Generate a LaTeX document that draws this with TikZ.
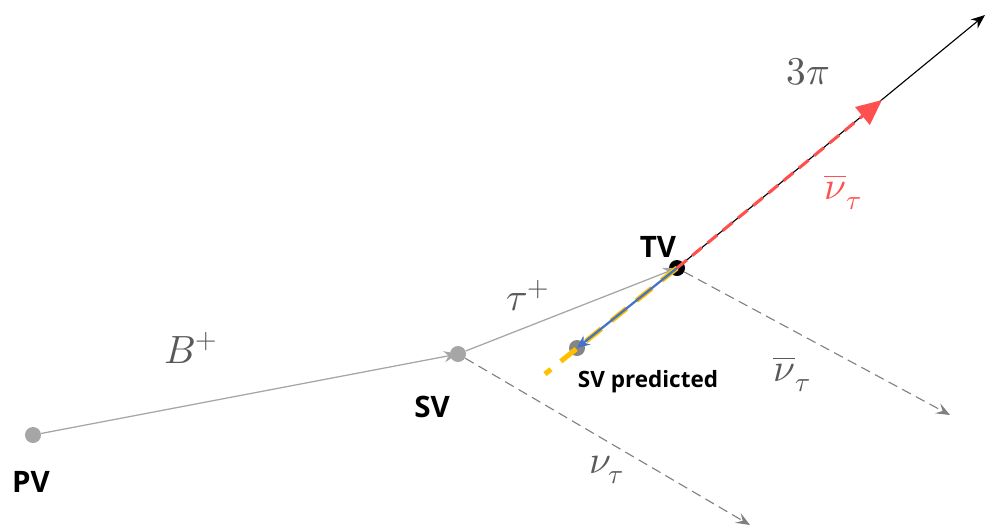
\documentclass[tikz,border=0pt]{standalone}
\usepackage{fontspec}
\usepackage{unicode-math}
\setsansfont{Open Sans}
\usepackage{xcolor}
\usetikzlibrary{arrows.meta}
\definecolor{lblgray}{HTML}{595959}
\definecolor{dotgray}{HTML}{A6A6A6}
\definecolor{nured}{HTML}{FF5050}
\definecolor{predblue}{HTML}{4472C4}
\definecolor{predgold}{HTML}{FFC000}

\begin{document}
\begin{tikzpicture}[x=0.025cm,y=-0.025cm,
  vtx/.style={circle,inner sep=0pt,minimum size=0.4cm},
  trk/.style={dotgray,line width=0.9pt,-{Stealth[length=10pt,width=8pt]}},
  nuline/.style={gray,line width=0.8pt,dash pattern=on 7pt off 4pt,
    -{Stealth[length=10pt,width=8pt,inset=4pt]}},
  vlbl/.style={font=\sffamily\bfseries\fontsize{21}{24}\selectfont},
  predlbl/.style={font=\sffamily\bfseries\fontsize{16}{19}\selectfont},
  mlbl/.style={text=lblgray,font=\fontsize{28}{32}\selectfont}]
  \useasboundingbox (0,0) rectangle (990,529);
  % Vertices
  \node[vtx,fill=dotgray] (pv) at (33,435) {};
  \node[vtx,fill=dotgray] (sv) at (458,354) {};
  \node[vtx,fill=black] (tv) at (677,268) {};
  \node[vtx,fill=gray!80!black,fill opacity=0.8] (svp) at (577,348) {};
  \coordinate (nuend) at (750,525);
  \coordinate (nubarend) at (950,415);
  \coordinate (pienda) at (985,15);
  \coordinate (nuredend) at (882,100);
  \coordinate (goldend) at (545,374);
  % Tracks
  \draw[trk] (pv) -- (sv.center);
  \draw[trk] (sv) -- (tv.center);
  \draw[nuline] (sv) -- (nuend);
  \draw[nuline] (tv) -- (nubarend);
  \draw[black,line width=0.8pt,-{Stealth[length=10pt,width=8pt]}] (tv.center) -- (pienda);
  \draw[nured,line width=2.2pt,dash pattern=on 9pt off 5pt,
    -{Triangle[length=18pt,width=16pt]}] (tv.center) -- (nuredend);
  % Predicted SV
  \draw[predgold,line width=3.6pt,dash pattern=on 14pt off 9pt] (tv.center) -- (goldend);
  \draw[predblue,line width=1.6pt,-{Stealth[length=9pt,width=8pt]}] (tv.center) -- (svp.center);
  % Labels
  \node[vlbl] (pvlbl) at (31,482) {PV};
  \node[vlbl] (svlbl) at (432,407) {SV};
  \node[vlbl] (tvlbl) at (658,247) {TV};
  \node[predlbl] (svplbl) at (648,382) {SV predicted};
  \node[mlbl] (blbl) at (191,348) {$B^+$};
  \node[mlbl] (taulbl) at (528,296) {$\tau^+$};
  \node[mlbl] (pilbl) at (808,72) {$3\pi$};
  \node[mlbl] (nulbl) at (607,470) {$\nu_\tau$};
  \node[mlbl] (nubarlbl) at (792,374) {$\overline{\nu}_\tau$};
  \node[mlbl,text=nured] (nuredlbl) at (843,192) {$\overline{\nu}_\tau$};
\end{tikzpicture}
\end{document}
